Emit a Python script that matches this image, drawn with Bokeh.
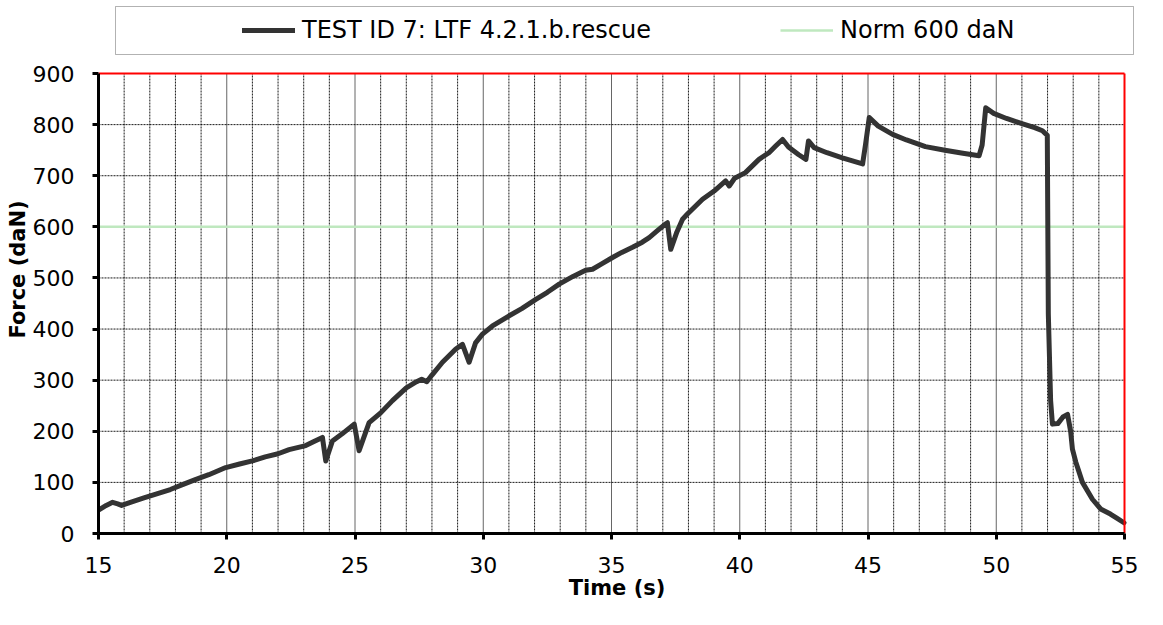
from bokeh.plotting import figure
from bokeh.models import Legend, LegendItem, FixedTicker, Range1d, BoxAnnotation
from bokeh.embed import file_html
from bokeh.resources import INLINE

# ---- data ----
time_s = [15.0, 15.3, 15.55, 15.75, 15.9, 16.3, 16.8, 17.3, 17.8, 18.3, 18.8, 19.3, 19.96,
          20.5, 21.0, 21.5, 22.0, 22.43, 23.08, 23.4, 23.73, 23.86, 24.12, 24.5, 24.97,
          25.16, 25.55, 26.0, 26.46, 27.0, 27.4, 27.6, 27.8, 28.0, 28.41, 28.93, 29.19,
          29.45, 29.7, 29.97, 30.36, 31.01, 31.5, 32.05, 32.5, 32.96, 33.5, 33.99, 34.26,
          34.6, 35.04, 35.4, 35.82, 36.2, 36.47, 36.8, 37.12, 37.18, 37.31, 37.55, 37.77,
          37.96, 38.16, 38.55, 39.0, 39.45, 39.59, 39.8, 40.22, 40.75, 41.14, 41.4, 41.67,
          41.9, 42.3, 42.58, 42.68, 42.9, 43.4, 44.0, 44.79, 44.9, 45.05, 45.4, 45.96,
          46.5, 47.24, 48.0, 48.7, 49.33, 49.45, 49.59, 49.9, 50.4, 51.0, 51.5, 51.8,
          51.99, 52.03, 52.12, 52.19, 52.4, 52.6, 52.78, 52.9, 52.97, 53.1, 53.36, 53.75,
          54.07, 54.45, 54.7, 54.98]
force_dan = [46, 55, 61, 58, 55, 62, 70, 78, 86, 96, 106, 115, 129,
             136, 142, 150, 156, 164, 172, 180, 188, 142, 181, 195, 214,
             162, 217, 236, 260, 285, 297, 302, 297, 310, 335, 361, 370,
             335, 373, 390, 406, 426, 440, 458, 472, 488, 503, 515, 517,
             527, 540, 550, 560, 570, 579, 593, 606, 608, 556, 590, 615,
             625, 635, 654, 670, 690, 680, 695, 706, 732, 745, 758, 771,
             756, 741, 732, 768, 755, 745, 735, 723, 760, 814, 797, 781,
             770, 757, 750, 744, 739, 760, 833, 822, 812, 802, 794, 788,
             779, 430, 260, 214, 215, 228, 233, 200, 165, 140, 100, 67,
             48, 38, 30, 21]
norm_time = [15, 55]
norm_force = [600, 600]

x_ticks = [15, 20, 25, 30, 35, 40, 45, 50, 55]
y_ticks = [0, 100, 200, 300, 400, 500, 600, 700, 800, 900]

series_label = "TEST ID 7: LTF 4.2.1.b.rescue"
norm_label = "Norm 600 daN"
x_title = "Time (s)"
y_title = "Force (daN)"

FONT = "DejaVu Sans"
FS = "22px"
LEGEND_FS = "24px"
LINE_COLOR = "#333333"
NORM_COLOR = "#bfe8bf"

# ---- layout (canvas pixels) ----
W, H = 1147, 609
B_LEFT, B_RIGHT, B_TOP, B_BOTTOM = 98, 12, 5, 76   # frame extends up/right to hold the legend box
PLOT_W, PLOT_H = 1026, 460                          # the red-bordered plotting area
FRAME_W = W - B_LEFT - B_RIGHT
FRAME_H = H - B_TOP - B_BOTTOM
x0, x1 = x_ticks[0], x_ticks[-1]
y0, y1 = y_ticks[0], y_ticks[-1]
x_end = x0 + (x1 - x0) * FRAME_W / PLOT_W
y_end = y0 + (y1 - y0) * FRAME_H / PLOT_H

p = figure(width=W, height=H, x_range=Range1d(x0, x_end), y_range=Range1d(y0, y_end),
           toolbar_location=None, output_backend="svg",
           min_border_left=B_LEFT, min_border_right=B_RIGHT,
           min_border_top=B_TOP, min_border_bottom=B_BOTTOM,
           outline_line_color=None,
           background_fill_color="white", border_fill_color="white")
p.xgrid.visible = False
p.ygrid.visible = False

p.xaxis.ticker = FixedTicker(ticks=x_ticks)
p.yaxis.ticker = FixedTicker(ticks=y_ticks)
p.xaxis.bounds = (x0, x1)
p.yaxis.bounds = (y0, y1)

for ax in (p.xaxis[0], p.yaxis[0]):
    ax.axis_line_color = "#000000"
    ax.axis_line_width = 3
    ax.major_tick_line_color = "#000000"
    ax.major_tick_line_width = 3
    ax.major_tick_in = 0
    ax.major_tick_out = 6
    ax.minor_tick_line_color = None
    ax.major_label_text_font = FONT
    ax.major_label_text_font_size = FS
    ax.major_label_text_color = "#000000"
    ax.axis_label_text_font = FONT
    ax.axis_label_text_font_size = "21px"
    ax.axis_label_text_font_style = "bold"
    ax.axis_label_text_color = "#000000"

p.xaxis.axis_label = x_title
p.yaxis.axis_label = y_title
p.xaxis.major_label_standoff = 17
p.xaxis.axis_label_standoff = 0
p.yaxis.major_label_standoff = 18
p.yaxis.axis_label_standoff = 0

# ---- grid of the plotting area (drawn from the tick lists) ----
x_minor = [t for t in range(x0 + 1, x1) if t not in x_ticks]
x_major_inner = x_ticks[1:-1]
y_inner = y_ticks[1:-1]
p.segment(x0=x_minor, y0=[y0] * len(x_minor), x1=x_minor, y1=[y1] * len(x_minor),
          line_color="#000000", line_width=1, line_dash="2 1", line_alpha=0.9)
p.segment(x0=x_major_inner, y0=[y0] * len(x_major_inner), x1=x_major_inner,
          y1=[y1] * len(x_major_inner), line_color="#666666", line_width=1)
p.segment(x0=[x0] * len(y_inner), y0=y_inner, x1=[x1] * len(y_inner), y1=y_inner,
          line_color="#000000", line_width=1, line_dash="2 1", line_alpha=0.9)

# ---- series ----
r_norm = p.line(norm_time, norm_force, line_color=NORM_COLOR, line_width=2.5)
r_test = p.line(time_s, force_dan, line_color=LINE_COLOR, line_width=5,
                line_join="round", line_cap="round")

# red border (top and right) of the plotting area
p.segment(x0=[x0, x1], y0=[y1, y0], x1=[x1, x1], y1=[y1, y1],
          line_color="#ff0000", line_width=2)

# ---- legend frame and items (above the plotting area) ----
box = BoxAnnotation(left=115, right=1133, top=6, bottom=54,
                    left_units="canvas", right_units="canvas",
                    top_units="canvas", bottom_units="canvas",
                    fill_alpha=0, line_color="#000000", line_width=1, level="overlay")
p.add_layout(box)

leg = Legend(items=[LegendItem(label=series_label, renderers=[r_test]),
                    LegendItem(label=norm_label, renderers=[r_norm])],
             orientation="horizontal", location=(144, FRAME_H - 39), padding=0, margin=0,
             spacing=129, glyph_width=53, glyph_height=28, label_standoff=7,
             label_height=28,
             label_text_font=FONT, label_text_font_size=LEGEND_FS,
             label_text_color="#000000",
             border_line_alpha=0, background_fill_alpha=0)
p.add_layout(leg, "center")

open("out.html", "w").write(file_html(p, INLINE))
